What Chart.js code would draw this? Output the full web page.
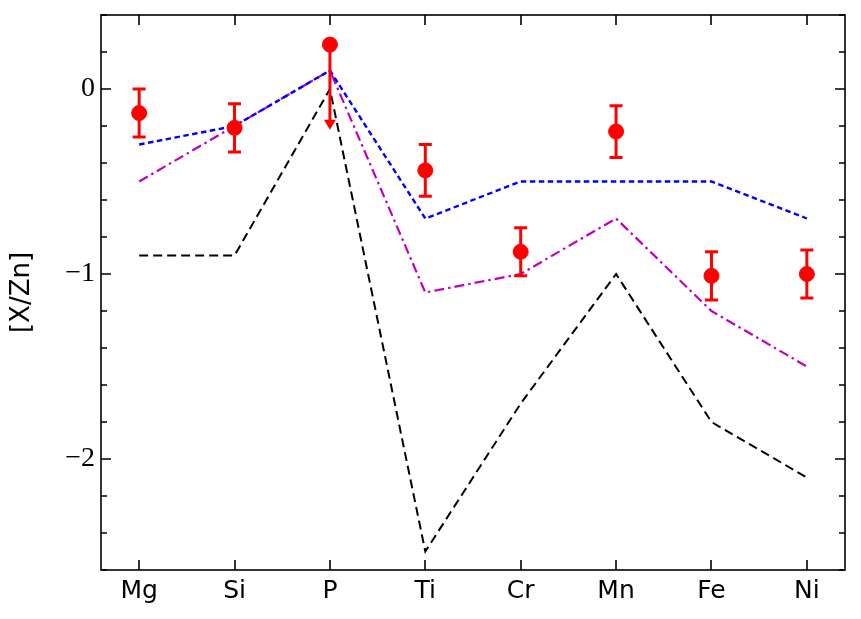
<!DOCTYPE html>
<html>
<head>
<meta charset="utf-8">
<script src="https://cdn.jsdelivr.net/npm/chart.js@4.4.0/dist/chart.umd.min.js"></script>
<style>
  html, body { margin: 0; padding: 0; background: #fff; }
</style>
</head>
<body>
<canvas id="chart_abund" width="861" height="619"></canvas>
<script>
    // elements on the x axis
    const elements = ['Mg', 'Si', 'P', 'Ti', 'Cr', 'Mn', 'Fe', 'Ni'];
    // observed [X/Zn] with errors, P is an upper limit
    const obs_value = [-0.13, -0.21, 0.24, -0.44, -0.88, -0.23, -1.01, -1.00];
    const obs_error = [0.13, 0.13, 0, 0.14, 0.13, 0.14, 0.13, 0.13];
    const obs_upper = [false, false, true, false, false, false, false, false];
    // model curves
    const model_dashed = [-0.9, -0.9, 0.0, -2.5, -1.7, -1.0, -1.8, -2.1];
    const model_dotted = [-0.3, -0.2, 0.1, -0.7, -0.5, -0.5, -0.5, -0.7];
    const model_dashdot = [-0.5, -0.2, 0.1, -1.1, -1.0, -0.7, -1.2, -1.5];
    const y_ticks = [-2, -1, 0];
    const upper_arrow_len = 0.46;

    function toPoints(arr) {
        return arr.map((v, i) => ({x: i, y: v}));
    }

    const tickPlugin = {
        id: 'tickPlugin',
        afterDatasetsDraw(chart) {
            const c = chart.ctx;
            const xs = chart.scales.x;
            const ys = chart.scales.y;
            const a = chart.chartArea;
            // error bars and upper limit arrow
            c.save();
            c.strokeStyle = '#ff0000';
            c.fillStyle = '#ff0000';
            c.lineWidth = 3;
            for (let i = 0; i < obs_value.length; i++) {
                const px = xs.getPixelForValue(i);
                if (obs_upper[i]) {
                    const y0 = ys.getPixelForValue(obs_value[i]);
                    const y1 = ys.getPixelForValue(obs_value[i] - upper_arrow_len);
                    c.beginPath();
                    c.moveTo(px, y0);
                    c.lineTo(px, y1 - 9);
                    c.stroke();
                    c.beginPath();
                    c.moveTo(px - 6, y1 - 10);
                    c.lineTo(px + 6, y1 - 10);
                    c.lineTo(px, y1);
                    c.closePath();
                    c.fill();
                } else {
                    const yt = ys.getPixelForValue(obs_value[i] + obs_error[i]);
                    const yb = ys.getPixelForValue(obs_value[i] - obs_error[i]);
                    c.beginPath();
                    c.moveTo(px, yt); c.lineTo(px, yb);
                    c.moveTo(px - 6.5, yt); c.lineTo(px + 6.5, yt);
                    c.moveTo(px - 6.5, yb); c.lineTo(px + 6.5, yb);
                    c.stroke();
                }
            }
            c.restore();

            // frame and inward ticks
            c.save();
            c.strokeStyle = '#000';
            c.lineWidth = 1.6;
            c.strokeRect(a.left, a.top, a.right - a.left, a.bottom - a.top);
            c.beginPath();
            for (let i = 0; i < elements.length; i++) {
                const px = Math.round(xs.getPixelForValue(i));
                c.moveTo(px, a.bottom); c.lineTo(px, a.bottom - 10);
                c.moveTo(px, a.top); c.lineTo(px, a.top + 10);
            }
            for (let k = Math.ceil(ys.min * 5); k <= Math.floor(ys.max * 5); k++) {
                const v = k / 5;
                const py = Math.round(ys.getPixelForValue(v));
                const len = (k % 5 === 0) ? 10 : 6;
                c.moveTo(a.left, py); c.lineTo(a.left + len, py);
                c.moveTo(a.right, py); c.lineTo(a.right - len, py);
            }
            c.stroke();
            c.restore();
        }
    };

    const ctxA = document.getElementById('chart_abund');
    new Chart(ctxA, {
        type: 'scatter',
        data: {
            datasets: [{
                label: 'Observed',
                data: toPoints(obs_value),
                backgroundColor: '#ff0000',
                borderColor: '#ff0000',
                pointRadius: 7.5,
                pointHoverRadius: 7.5,
                showLine: false,
                order: 0
            }, {
                label: 'Model 1',
                data: toPoints(model_dashed),
                showLine: true,
                borderColor: '#000000',
                borderWidth: 2,
                borderDash: [9, 5],
                pointRadius: 0,
                order: 1
            }, {
                label: 'Model 2',
                data: toPoints(model_dotted),
                showLine: true,
                borderColor: '#0000ff',
                borderWidth: 2.4,
                borderDash: [5.5, 3.5],
                pointRadius: 0,
                order: 1
            }, {
                label: 'Model 3',
                data: toPoints(model_dashdot),
                showLine: true,
                borderColor: '#c000c0',
                borderWidth: 2.2,
                borderDash: [10, 4, 2.5, 4],
                pointRadius: 0,
                order: 1
            }]
        },
        options: {
            responsive: false,
            animation: false,
            events: [],
            layout: {
                padding: {left: 0, right: 16, top: 15, bottom: 0}
            },
            plugins: {
                legend: { display: false },
                tooltip: { enabled: false }
            },
            scales: {
                x: {
                    type: 'linear',
                    min: -0.4,
                    max: 7.4,
                    afterBuildTicks: (s) => { s.ticks = elements.map((e, i) => ({value: i})); },
                    afterFit: (s) => { s.height = 49; s.paddingLeft = 0; s.paddingRight = 0; },
                    grid: { display: false, drawTicks: false },
                    border: { display: false },
                    ticks: {
                        padding: 6,
                        color: '#000',
                        font: { family: 'DejaVu Sans', size: 25 },
                        maxRotation: 0,
                        autoSkip: false,
                        callback: (v) => elements[v]
                    }
                },
                y: {
                    min: -2.6,
                    max: 0.4,
                    afterBuildTicks: (s) => { s.ticks = y_ticks.map(v => ({value: v})); },
                    afterFit: (s) => { s.width = 101; s.paddingTop = 0; s.paddingBottom = 0; },
                    grid: { display: false, drawTicks: false },
                    border: { display: false },
                    title: {
                        display: true,
                        text: '[X/Zn]',
                        color: '#000',
                        font: { family: 'DejaVu Sans', size: 26 },
                        padding: { top: 7, bottom: 0 }
                    },
                    ticks: {
                        padding: 6,
                        color: '#000',
                        font: { family: 'Liberation Serif', size: 28 },
                        callback: (v) => (v < 0 ? '\u2212' + Math.abs(v) : String(v))
                    }
                }
            }
        },
        plugins: [tickPlugin]
    });
</script>
</body>
</html>
